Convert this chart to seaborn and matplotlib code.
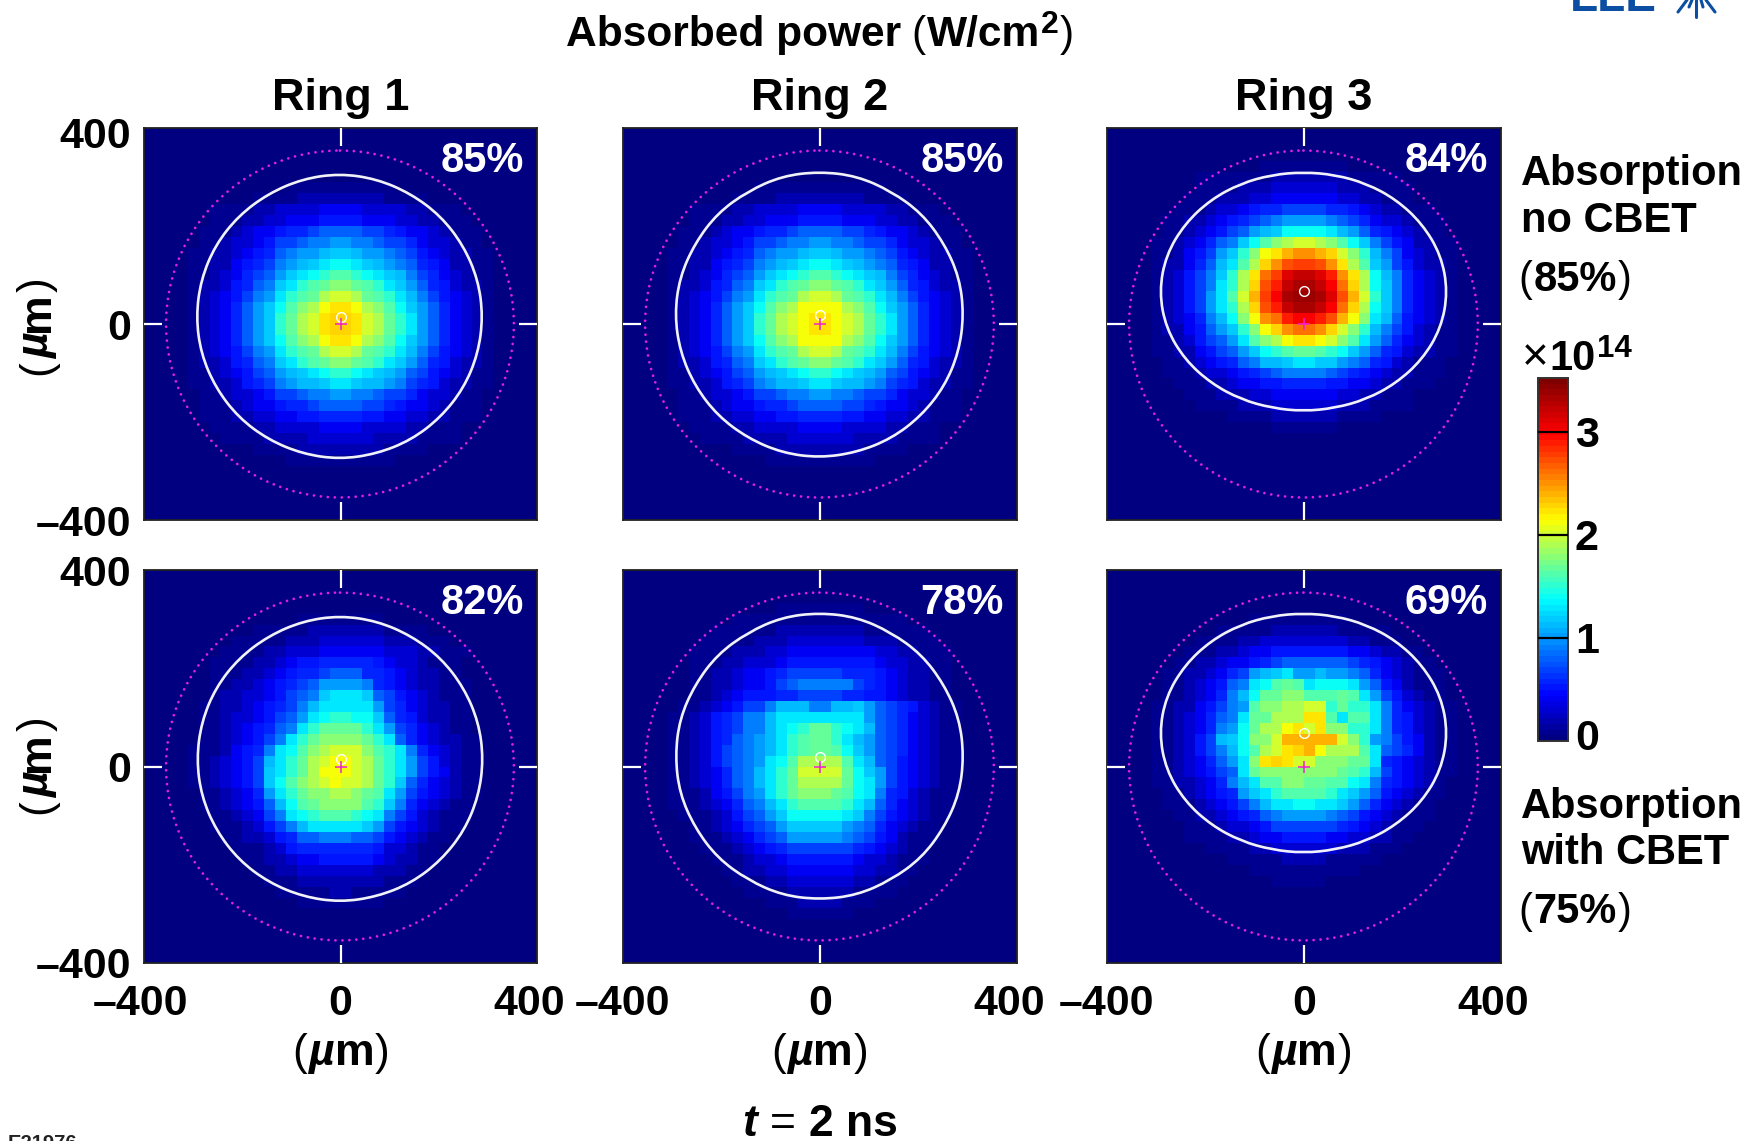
import matplotlib
matplotlib.use("Agg")
import matplotlib.pyplot as plt
from matplotlib.colors import LinearSegmentedColormap
from matplotlib.lines import Line2D
from matplotlib.patches import Circle, PathPatch
from matplotlib.path import Path
from matplotlib.transforms import ScaledTranslation
import numpy as np
import pandas as pd
import seaborn as sns

W, H = 1759, 1141

# absorbed power per cell, one character per cell in units of 0.1e14 W/cm2
# (base 36: a = 10, k = 20, u = 30). Rows 3-32, columns 4-31 of the 36 x 36 grid
RING1_NO_CBET = [
    "0000000 0000000 0000000 0000000",
    "0000000 0000000 0000000 0000000",
    "0000000 0011111 1111100 0000000",
    "0000001 1112222 2222111 1000000",
    "0011112 2333344 4433332 2111000",
    "0011122 3344455 5544433 2211100",
    "0111234 4566788 8877654 4321110",
    "0112334 577899a a998776 4332110",
    "1122345 689aabc cbaa987 5432211",
    "1122456 79abcde edcba98 6542211",
    "1123467 8acdefg gfedcb9 7643211",
    "1223568 9cdfghi ihgfdca 8653221",
    "1234579 adfghjk kjhgfdb 9754321",
    "123468a cegijlm mljigec a864321",
    "123468a cfhjkmn nmkjhfd a864321",
    "123468a cfhjkmn nmkjhfd a864321",
    "123468a cegijlm mljigec a864321",
    "1234579 adfghjk kjhgfdb 9754321",
    "1223568 9cdfghi ihgfdca 8653221",
    "1123457 8abcdef fedcba8 7543211",
    "1122356 79abbcd dcbba97 6532211",
    "0112334 577899a a998776 4332110",
    "0111234 4566788 8877654 4321110",
    "0111223 3445566 6655443 3221110",
    "0011112 2333344 4433332 2111000",
    "0001111 2222333 3332222 1111000",
    "0000001 1112222 2222111 1000000",
    "0000000 0011111 1111100 0000000",
    "0000000 0000000 0000000 0000000",
    "0000000 0000000 0000000 0000000",
]
RING2_NO_CBET = [
    "0000000 0000000 0000000 0000000",
    "0000000 0000000 0000000 0000000",
    "0000000 0111111 1111110 0000000",
    "0000001 1112222 2222111 1000000",
    "0011112 2333344 4433332 2111000",
    "0011122 3344455 5544433 2211100",
    "0111234 4566788 8877654 4321110",
    "0112334 577899a a998776 4332110",
    "1122345 689aabc cbaa987 5432211",
    "1122456 79abcde edcba98 6542211",
    "1123467 8acdefg gfedcb9 7643211",
    "1223568 9cdfghi ihgfdca 8653221",
    "1234579 adfghjk kjhgfdb 9754321",
    "123468a cegijll lljigec a864321",
    "123468a cfhjklm mlkjhfd a864321",
    "123468a cfhjklm mlkjhfd a864321",
    "123468a cegijll lljigec a864321",
    "1234579 adfghjk kjhgfdb 9754321",
    "1223568 9cdfghi ihgfdca 8653221",
    "1123457 8abcdef fedcba8 7543211",
    "1122356 79abbcd dcbba97 6532211",
    "0112334 577899a a998776 4332110",
    "0111234 4566788 8877654 4321110",
    "0111223 3445566 6655443 3221110",
    "0011112 2333344 4433332 2111000",
    "0001111 2222333 3332222 1111000",
    "0000001 1112222 2222111 1000000",
    "0000000 0011111 1111100 0000000",
    "0000000 0000000 0000000 0000000",
    "0000000 0000000 0000000 0000000",
]
RING3_NO_CBET = [
    "0000000 0001111 1111000 0000000",
    "0000111 1111222 2222111 1100000",
    "0000111 1222333 3332221 1110000",
    "0001112 2233444 4443322 1110000",
    "0011123 3456677 7766543 2211100",
    "0112234 56789aa aa98764 3321110",
    "0112345 78abcee eedba86 5432110",
    "1123468 9cegijk kjigec9 7542211",
    "112457a cfilmop ponkifb 9743211",
    "122468b dgjnprs srpmjgc a753221",
    "123579c fjmqsvw wvtpmje b964321",
    "123579d fjnrtwx xwuqnje c964321",
    "12357ad gkosuxy yxvrokf c964321",
    "12357ad fjnrtwx xwuqnje c964321",
    "123469b eilpqtu utrolid b854321",
    "122458a cfilnpq qpnkifb 9753211",
    "1123578 adgijlm mlkigda 8643211",
    "1122457 8acefgh hgfeca8 6532211",
    "0112345 689bbcd dcca986 5321110",
    "0111233 4567899 9987654 3221110",
    "0011122 3445566 6655443 2211100",
    "0001112 2233444 4443322 1110000",
    "0000111 1222333 3332221 1110000",
    "0000000 1111222 2221111 0000000",
    "0000000 0000111 1110000 0000000",
    "0000000 0000000 0000000 0000000",
    "0000000 0000000 0000000 0000000",
    "0000000 0000000 0000000 0000000",
    "0000000 0000000 0000000 0000000",
    "0000000 0000000 0000000 0000000",
]
RING1_CBET = [
    "0000000 0000000 0000000 0000000",
    "0000000 0001111 1111000 0000000",
    "0000001 1111222 2222111 1000000",
    "0000111 1122233 3333222 1110000",
    "0001111 2233344 4444333 2211100",
    "0011112 2345566 6665433 2111000",
    "0011122 3456678 8866543 2211000",
    "0011223 45678aa aa96543 2211100",
    "0012233 45789cd ddc8754 3211100",
    "0112234 5679bdd ddda764 3221100",
    "0112334 578adef feec865 3221100",
    "0112345 689dfhh hhfda76 4321100",
    "0112345 79dfhii iihfd86 4322110",
    "1112456 9degijk kkigfd9 6432110",
    "1123457 bdfhjkl lkjhfda 7532110",
    "1123457 cdfhjll lkjhfda 7542110",
    "1123457 cegijkl kkjhfc8 6432110",
    "0112346 adfhiij jihgda7 5432110",
    "0112345 8beghii iigfc96 4321100",
    "0011234 79defgg gfed975 3211100",
    "0011123 579bddd ddca754 3211000",
    "0001122 3568899 9887543 2110000",
    "0000111 2356666 6665332 1100000",
    "0000011 2234455 5554322 1100000",
    "0000001 1223333 3332221 1000000",
    "0000000 1112222 2222111 0000000",
    "0000000 0111112 2111110 0000000",
    "0000000 0001111 1111000 0000000",
    "0000000 0000000 0000000 0000000",
    "0000000 0000000 0000000 0000000",
]
RING2_CBET = [
    "0000000 0001111 1111000 0000000",
    "0000001 1111111 1111111 1000000",
    "0000111 1112222 2222111 1110000",
    "0001111 1222333 3333222 1111000",
    "0011112 2233444 4444433 2211100",
    "0011122 3334555 5555543 3221100",
    "0011223 4456777 7766654 3221100",
    "0011223 4457899 9997654 3221100",
    "0011234 5556677 7766554 3221100",
    "0112345 779bbb9 9bbca87 6532110",
    "1123567 99bdddd dddda87 6432110",
    "1123567 99bdefh hfedb87 6432110",
    "1123568 9abdfgh hfdba87 6432110",
    "1123578 9abdfgh hgeca87 6432110",
    "1123578 9adegjj jjgdb87 5432110",
    "1123468 9bdfhkk kkheca7 5432110",
    "1123468 9bdfhjj jjheda7 5432110",
    "1112457 9adfhii ihged96 5321110",
    "1112346 89bdfgg ggfdb86 4321100",
    "0111235 78aceee eedc975 4321100",
    "0011234 678accc cca9864 3211000",
    "0011123 4678aaa aa98754 2111000",
    "0001112 3456777 7776543 2110000",
    "0000111 2334555 5554332 1110000",
    "0000011 2233444 4443322 1100000",
    "0000001 1122333 3332211 1000000",
    "0000000 1111222 2221111 0000000",
    "0000000 0011122 2211100 0000000",
    "0000000 0000111 1110000 0000000",
    "0000000 0000000 0000000 0000000",
]
RING3_CBET = [
    "0000000 0000000 0000000 0000000",
    "0000000 0011111 1111000 0000000",
    "0000001 1111222 2221111 1000000",
    "0000111 1223333 3333221 1100000",
    "0001112 2344555 5555443 2211000",
    "0011223 4456788 8888765 4321100",
    "0112234 67abcda abaa986 4321110",
    "0112345 89deghg deeeda8 5421110",
    "0112346 9behhii ggghgda 7532110",
    "1122457 9agiijj kkfhffd 9643211",
    "1123468 9dhhjjj mmgdggd 9653211",
    "1123469 aehjjlm kmiiffd 9653211",
    "112357b ceiikoo oookifa 9754211",
    "1123579 begjkmn oljjjgd 8764211",
    "1123468 adimnmk kiiihhd 6543211",
    "1123457 8dhiiii iiihgfb 7543211",
    "1122346 9bdggii hhgged9 6543210",
    "0112345 6acdfgg ggfdca8 5432110",
    "0111234 579bdde eddca86 4321100",
    "0011223 45689aa aa98754 3211100",
    "0001112 3345777 7776543 2111000",
    "0001111 2234455 5544332 2110000",
    "0000011 1122333 3332221 1100000",
    "0000000 1111122 2211111 0000000",
    "0000000 0011111 1111100 0000000",
    "0000000 0000111 1100000 0000000",
    "0000000 0000000 0000000 0000000",
    "0000000 0000000 0000000 0000000",
    "0000000 0000000 0000000 0000000",
    "0000000 0000000 0000000 0000000",
]

PANELS = [RING1_NO_CBET, RING2_NO_CBET, RING3_NO_CBET, RING1_CBET, RING2_CBET, RING3_CBET]
PERCENTS = ["85%", "85%", "84%", "82%", "78%", "69%"]
RING_TITLES = ["Ring 1", "Ring 2", "Ring 3"]

# white contour: centre (um) and radius (um) every 15 degrees
CONTOUR_CENTERS = [(-2, 15), (-1, 19), (-1, 66), (-1, 15), (-1, 21), (-1, 68)]
RADII_RING1 = [292, 292, 291, 291, 290, 291, 292, 291, 290, 291, 292, 292,
               292, 292, 291, 291, 290, 290, 291, 290, 291, 291, 292, 292]
RADII_RING2 = [293, 294, 292, 293, 291, 293, 292, 293, 291, 293, 292, 294,
               294, 293, 292, 292, 291, 292, 292, 291, 292, 292, 293, 293]
RADII_RING3 = [293, 289, 278, 266, 255, 247, 244, 247, 255, 266, 278, 289,
               293, 289, 278, 265, 254, 246, 244, 246, 254, 265, 278, 289]
RADII_RING2_CBET = [293, 294, 292, 293, 291, 293, 292, 293, 291, 293, 292, 294,
                    293, 294, 292, 293, 291, 293, 292, 293, 291, 293, 292, 294]
CONTOUR_RADII = [RADII_RING1, RADII_RING2, RADII_RING3, RADII_RING1, RADII_RING2_CBET, RADII_RING3]

# small circle above the magenta cross (um)
CIRCLE_Y = [14, 18, 67, 15, 19, 68]
TARGET_RADIUS = 354

CBAR_MAX = 3.52
CBAR_TICKS = [0.06, 1, 2, 3]
CBAR_LABELS = ["0", "1", "2", "3"]

# colour bar stops: navy, blue, cyan, yellow, red, dark red
CMAP_STOPS = [0, 0.122, 0.389, 0.61, 0.852, 1]
CMAP_COLORS = [(0, 0, 0.5), (0, 0, 1), (0, 1, 1), (1, 1, 0), (1, 0, 0), (0.5, 0, 0)]

sns.set_theme(style="white")
plt.rcParams["font.family"] = ["Liberation Sans", "DejaVu Sans"]
plt.rcParams["font.weight"] = "bold"
plt.rcParams["text.color"] = "black"
plt.rcParams["xtick.labelcolor"] = "black"
plt.rcParams["ytick.labelcolor"] = "black"

jet = LinearSegmentedColormap.from_list("ref_jet", list(zip(CMAP_STOPS, CMAP_COLORS)), N=64)


def decode(rows):
    grid = [[0.0] * 36 for _ in range(3)]
    for row in rows:
        cells = [int(c, 36) / 10 for c in row.replace(" ", "")]
        grid.append([0.0] * 4 + cells + [0.0] * 4)
    grid += [[0.0] * 36 for _ in range(3)]
    return pd.DataFrame(grid)


def px_axes(left, top, right, bottom):
    return fig.add_axes([left / W, 1 - bottom / H, (right - left) / W, (bottom - top) / H])


def to_x(v):
    return (np.asarray(v) + 400) * 36 / 800


def to_y(v):
    return (400 - np.asarray(v)) * 36 / 800


def rich(x, y, pieces, size=30, vertical=False):
    # mixed weight text, x / y are the centre of the run and its baseline in pixels
    renderer = fig.canvas.get_renderer()
    placed = []
    total = 0
    for text, weight, style, scale, lift, gap in pieces:
        t = fig.text(0, 0, text, fontsize=size * scale, fontweight=weight, fontstyle=style,
                     ha="left", va="baseline", rotation=90 if vertical else 0,
                     rotation_mode="anchor")
        box = t.get_window_extent(renderer)
        adv = box.height if vertical else box.width
        placed.append((t, total, lift))
        total += adv + gap
    for t, off, lift in placed:
        if vertical:
            t.set_position(((x - lift) / W, 1 - (y + total / 2 - off) / H))
        else:
            t.set_position(((x - total / 2 + off) / W, 1 - (y - lift) / H))


def um_label():
    return [("(", "normal", "normal", 1, 0, 1), ("\u00b5", "bold", "italic", 1, 0, 1),
            ("m", "bold", "normal", 1, 0, 1), (")", "normal", "normal", 1, 0, 0)]


def plain(text, x, y, size=30):
    fig.text(x / W, 1 - y / H, text, fontsize=size, fontweight="bold", ha="left", va="baseline")


fig = plt.figure(figsize=(W / 100, H / 100), dpi=100, facecolor="white")

COL_X = [(144, 537), (623, 1017), (1107, 1501)]
ROW_Y = [(128, 520), (570, 963)]
cax = px_axes(1538, 378, 1568, 741)

for i, rows in enumerate(PANELS):
    col, row = i % 3, i // 3
    ax = px_axes(COL_X[col][0], ROW_Y[row][0], COL_X[col][1], ROW_Y[row][1])
    first = i == 0
    sns.heatmap(decode(rows), ax=ax, cmap=jet, vmin=0, vmax=CBAR_MAX, xticklabels=False,
                yticklabels=False, cbar=first, cbar_ax=cax if first else None,
                cbar_kws={"ticks": CBAR_TICKS} if first else None)
    ax.set_axisbelow(False)

    # white absorption contour, rounded through the read points
    radii = np.array(CONTOUR_RADII[i])
    angles = np.deg2rad(np.arange(len(radii)) * 15)
    cx, cy = CONTOUR_CENTERS[i]
    pts = np.column_stack([to_x(cx + radii * np.cos(angles)), to_y(cy + radii * np.sin(angles))])
    mids = (pts + np.roll(pts, -1, axis=0)) / 2
    verts = [mids[-1]]
    codes = [Path.MOVETO]
    for p, m in zip(pts, mids):
        verts += [p, m]
        codes += [Path.CURVE3, Path.CURVE3]
    ax.add_patch(PathPatch(Path(verts, codes), fill=False, edgecolor="white", linewidth=1.9, alpha=0.95))

    ax.add_patch(Circle((to_x(0) - 0.05, to_y(0)), TARGET_RADIUS * 36 / 800, fill=False,
                        edgecolor="#e01fe0", linewidth=2.0, linestyle=(0, (0.01, 2.5)),
                        capstyle="round"))
    ax.plot(to_x(0), to_y(CIRCLE_Y[i]), "o", mfc="none", mec="white", ms=7, mew=1.0)
    ax.plot(to_x(0), to_y(0), "+", color="#f020d0", ms=8.5, mew=1.1)

    ax.text(0.967, 0.915, PERCENTS[i], transform=ax.transAxes, color="white", fontsize=30,
            fontweight="bold", ha="right", va="center")

    for side in ax.spines.values():
        side.set_visible(True)
        side.set_color("#222222")
        side.set_linewidth(1.3)

    ax.set_xticks([0, 18, 35.3])
    ax.set_yticks([0.4 if row == 0 else 0, 18, 36])
    ax.set_xticklabels(["\u2013400", "0", "400"], fontsize=31, fontweight="bold")
    ax.set_yticklabels(["400", "0", "\u2013400"], fontsize=31, fontweight="bold", rotation=0,
                       va="center_baseline")
    ax.tick_params(axis="both", which="major", direction="in", length=13, width=1.6, color="white",
                   top=True, right=True, bottom=True, left=True,
                   labelbottom=row == 1, labelleft=col == 0, labeltop=False, labelright=False)
    ax.tick_params(axis="x", pad=15)
    ax.tick_params(axis="y", pad=9)
    for axis in (ax.xaxis, ax.yaxis):
        ticks = axis.get_major_ticks()
        for n in (0, 2):
            ticks[n].tick1line.set_visible(False)
            ticks[n].tick2line.set_visible(False)
    if col == 0 and row == 1:
        left_label = ax.xaxis.get_major_ticks()[0].label1
        left_label.set_transform(left_label.get_transform() + ScaledTranslation(-0.04, 0, fig.dpi_scale_trans))

    if row == 0:
        ax.set_title(RING_TITLES[col], fontsize=32.4, fontweight="bold", pad=13)

# colorbar
cbar = fig.axes[1].collections[0].colorbar
cbar.set_ticks(CBAR_TICKS, labels=CBAR_LABELS)
cbar.outline.set_visible(True)
cbar.outline.set_edgecolor("#333333")
cbar.outline.set_linewidth(1.4)
cax.set_axisbelow(False)
cax.tick_params(direction="in", length=21.6, width=1.6, color="black", labelsize=31, pad=5,
                labelcolor="black", right=True, left=False)
cax.yaxis.get_major_ticks()[0].tick2line.set_visible(False)

# titles and side labels
rich(820, 46, [("Absorbed power", "bold", "normal", 1, 0, 10), ("(", "normal", "normal", 1, 0, 1),
               ("W/cm", "bold", "normal", 1, 0, 1), ("2", "bold", "normal", 0.75, 13, 1),
               (")", "normal", "normal", 1, 0, 0)], size=30.6)
rich(820, 1136, [("t", "bold", "italic", 1, 0, 13), ("=", "normal", "normal", 1, 0, 13),
                 ("2 ns", "bold", "normal", 1, 0, 0)], size=32)

for center in (341, 820, 1304):
    rich(center, 1065, um_label(), size=32)
for center in (326, 765):
    rich(49, center, um_label(), size=32, vertical=True)

plain("Absorption", 1521, 185)
plain("no CBET", 1521, 232)
rich(1575, 291, [("(", "normal", "normal", 1, 0, 1), ("85%", "bold", "normal", 1, 0, 1),
                 (")", "normal", "normal", 1, 0, 0)])
plain("Absorption", 1521, 818)
plain("with CBET", 1521, 864)
rich(1575, 923, [("(", "normal", "normal", 1, 0, 1), ("75%", "bold", "normal", 1, 0, 1),
                 (")", "normal", "normal", 1, 0, 0)])
rich(1577, 370, [("\u00d7", "normal", "normal", 1.1, 0, 1), ("10", "bold", "normal", 1, 0, 1),
                 ("14", "bold", "normal", 0.75, 13, 0)])

# figure number and logo, both cut off by the page edge
fig.text(8 / W, -8 / H, "E21976", fontsize=14.5, fontweight="bold", color="#222222", va="baseline")
fig.text(1570 / W, 1 - 11 / H, "LLE", fontsize=33, fontweight="bold", color="#0b4ea2", va="baseline")
RAY_X = [(1678, 1687), (1689, 1692), (1696, 1696), (1703, 1701), (1715, 1706)]
RAY_Y = [(12, 0), (7, 0), (17, 0), (7, 0), (12, 0)]
for xs, ys in zip(RAY_X, RAY_Y):
    fig.add_artist(Line2D([x / W for x in xs], [1 - y / H for y in ys], color="#0b4ea2", lw=2.2))

fig.savefig("out.png", dpi=100, facecolor="white")
